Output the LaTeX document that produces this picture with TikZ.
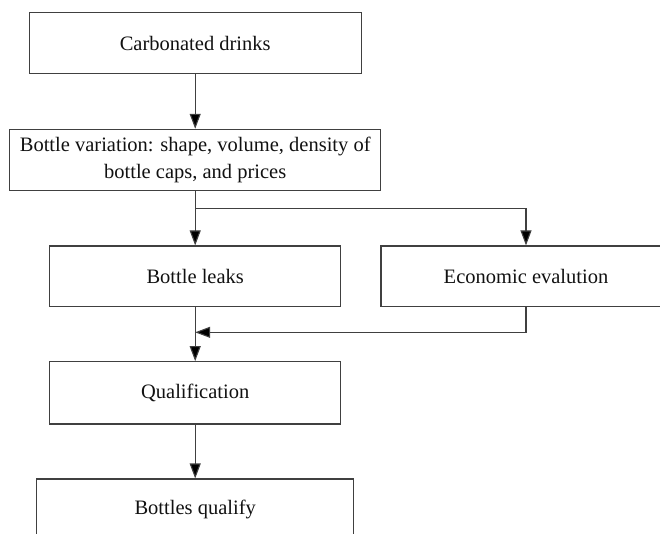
\documentclass[tikz,border=0pt]{standalone}
\usepackage{fontspec}
\setmainfont{Liberation Serif}
\usetikzlibrary{arrows.meta}
\definecolor{linegray}{HTML}{404040}
\definecolor{textdark}{HTML}{111111}
\begin{document}
\begin{tikzpicture}[x=1pt,y=-1pt,
  box/.style={draw=linegray, line width=1.1pt, inner sep=0pt, text=textdark,
    font=\fontsize{20.5}{27.3}\selectfont, align=center},
  arr/.style={draw=linegray, line width=1.1pt, -{Triangle[length=15pt,width=11pt,fill=black]}}]
\useasboundingbox (0,0) rectangle (660,533);
\clip (0,0) rectangle (660,533);
\node[box, minimum width=331.7pt, minimum height=60.6pt] (c) at (195.2,43) {Carbonated drinks};
\node[box, minimum width=371.4pt, minimum height=61.4pt] (v) at (195.2,160) {Bottle variation: shape, volume, density of\\bottle caps, and prices};
\node[box, minimum width=290.7pt, minimum height=60.7pt] (l) at (195.2,276.3) {Bottle leaks};
\node[box, minimum width=290pt, minimum height=60.7pt] (e) at (526,276.3) {Economic evalution};
\node[box, minimum width=290.7pt, minimum height=62.3pt] (q) at (195.2,392.8) {Qualification};
\node[box, minimum width=317.3pt, minimum height=61pt] (b) at (195.2,509.5) {Bottles qualify};
\coordinate (br) at (195.2,208.7);
\coordinate (m) at (195.2,332.3);
\draw[arr] (c) -- (v);
\draw[arr] (v) -- (l);
\draw[arr] (br) -| (e.north);
\draw[arr] (l) -- (q);
\draw[arr] (e.south) |- (m);
\draw[arr] (q) -- (b);
\end{tikzpicture}
\end{document}
